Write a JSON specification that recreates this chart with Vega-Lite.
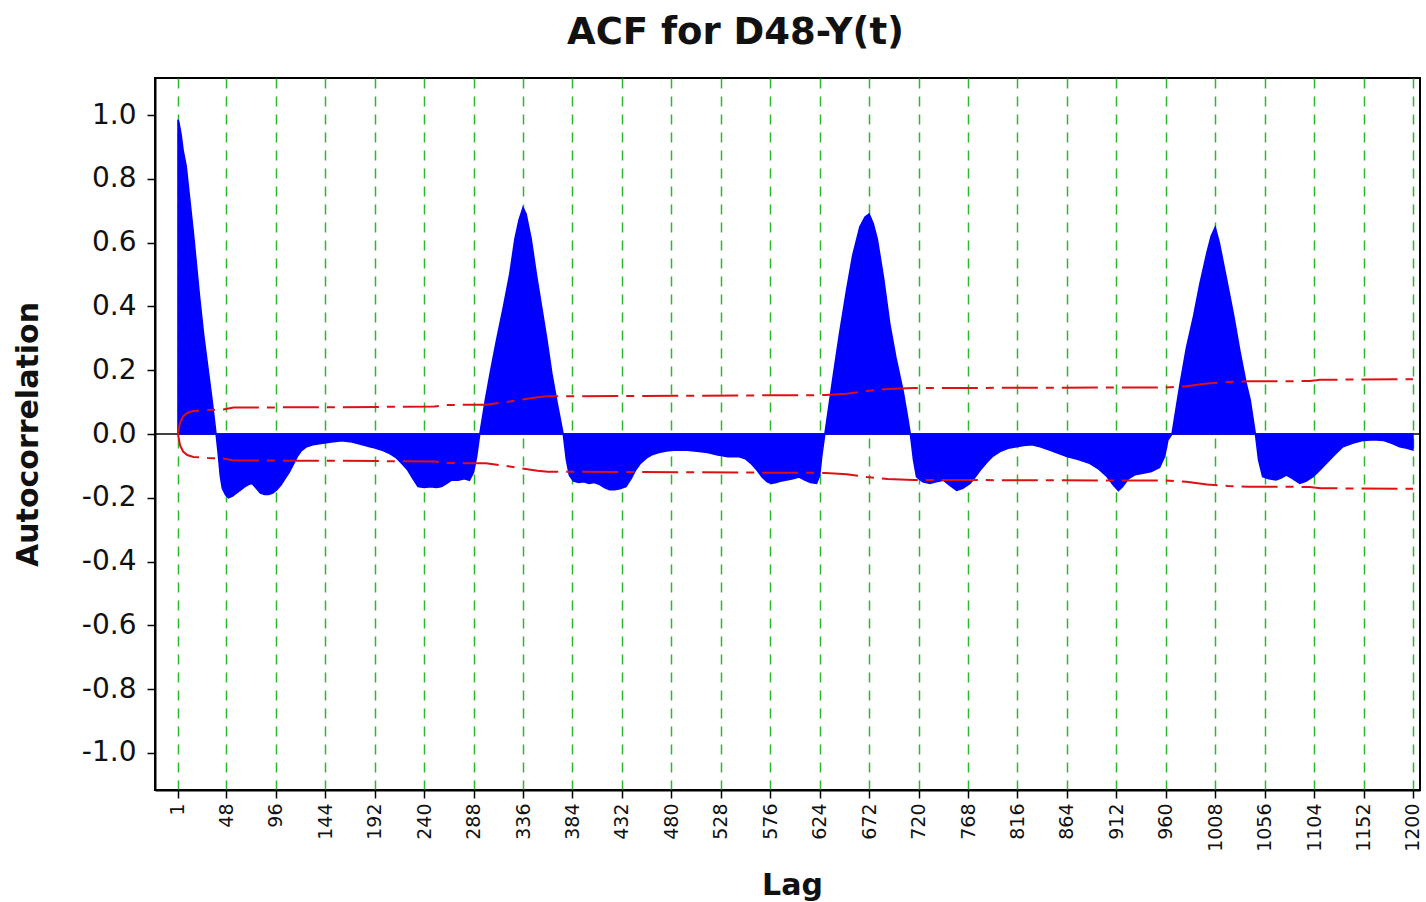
{
  "$schema": "https://vega.github.io/schema/vega-lite/v6.json",
  "autosize": {"type": "none"},
  "width": 1265,
  "height": 712,
  "padding": {"left": 155, "top": 78, "right": 6, "bottom": 112},
  "background": "white",
  "title": {
    "text": "ACF for D48-Y(t)",
    "font": "DejaVu Sans",
    "fontSize": 37,
    "fontWeight": "bold",
    "color": "#111111",
    "anchor": "middle",
    "baseline": "alphabetic",
    "offset": 35,
    "dx": -52,
    "dy": 38
  },
  "config": {
    "view": {"stroke": "black", "strokeWidth": 2},
    "axis": {
      "labelFont": "DejaVu Sans",
      "labelColor": "#111111",
      "titleFont": "DejaVu Sans",
      "titleFontWeight": "bold",
      "titleColor": "#111111",
      "titleFontSize": 30,
      "domainColor": "black",
      "domainWidth": 2,
      "tickColor": "black",
      "tickWidth": 1.5,
      "tickSize": 8
    }
  },
  "datasets": {
    "acf": [
      {"lag": 1, "acf": 0.985}, {"lag": 2, "acf": 0.975}, {"lag": 4, "acf": 0.94}, {"lag": 6, "acf": 0.89}, {"lag": 9, "acf": 0.84},
      {"lag": 13, "acf": 0.72}, {"lag": 16, "acf": 0.63}, {"lag": 19, "acf": 0.53}, {"lag": 22, "acf": 0.43},
      {"lag": 26, "acf": 0.31}, {"lag": 30, "acf": 0.21}, {"lag": 34, "acf": 0.11}, {"lag": 38, "acf": 0.0},
      {"lag": 40, "acf": -0.06}, {"lag": 42, "acf": -0.13}, {"lag": 44, "acf": -0.17}, {"lag": 47, "acf": -0.19},
      {"lag": 50, "acf": -0.2}, {"lag": 54, "acf": -0.195}, {"lag": 58, "acf": -0.185}, {"lag": 62, "acf": -0.175},
      {"lag": 66, "acf": -0.165}, {"lag": 70, "acf": -0.158}, {"lag": 73, "acf": -0.155}, {"lag": 77, "acf": -0.17},
      {"lag": 81, "acf": -0.185}, {"lag": 85, "acf": -0.19}, {"lag": 89, "acf": -0.19}, {"lag": 93, "acf": -0.185},
      {"lag": 97, "acf": -0.175}, {"lag": 101, "acf": -0.16}, {"lag": 105, "acf": -0.14}, {"lag": 109, "acf": -0.12},
      {"lag": 113, "acf": -0.095}, {"lag": 117, "acf": -0.07}, {"lag": 121, "acf": -0.052}, {"lag": 126, "acf": -0.04},
      {"lag": 132, "acf": -0.034}, {"lag": 140, "acf": -0.03}, {"lag": 150, "acf": -0.025}, {"lag": 160, "acf": -0.021},
      {"lag": 170, "acf": -0.025}, {"lag": 180, "acf": -0.034}, {"lag": 190, "acf": -0.042}, {"lag": 200, "acf": -0.052},
      {"lag": 207, "acf": -0.062}, {"lag": 213, "acf": -0.075}, {"lag": 219, "acf": -0.095}, {"lag": 224, "acf": -0.113},
      {"lag": 229, "acf": -0.14}, {"lag": 234, "acf": -0.165}, {"lag": 240, "acf": -0.168}, {"lag": 246, "acf": -0.165},
      {"lag": 252, "acf": -0.168}, {"lag": 257, "acf": -0.165}, {"lag": 262, "acf": -0.155}, {"lag": 267, "acf": -0.144},
      {"lag": 273, "acf": -0.145}, {"lag": 279, "acf": -0.14}, {"lag": 284, "acf": -0.145}, {"lag": 288, "acf": -0.12},
      {"lag": 291, "acf": -0.07}, {"lag": 294, "acf": 0.0}, {"lag": 299, "acf": 0.1}, {"lag": 304, "acf": 0.19},
      {"lag": 310, "acf": 0.29}, {"lag": 317, "acf": 0.4}, {"lag": 323, "acf": 0.5}, {"lag": 328, "acf": 0.61},
      {"lag": 332, "acf": 0.67}, {"lag": 336, "acf": 0.71}, {"lag": 339, "acf": 0.69}, {"lag": 344, "acf": 0.61},
      {"lag": 349, "acf": 0.5}, {"lag": 354, "acf": 0.4}, {"lag": 359, "acf": 0.3}, {"lag": 364, "acf": 0.19},
      {"lag": 369, "acf": 0.1}, {"lag": 375, "acf": 0.0}, {"lag": 378, "acf": -0.08}, {"lag": 381, "acf": -0.13},
      {"lag": 385, "acf": -0.148}, {"lag": 390, "acf": -0.152}, {"lag": 395, "acf": -0.15}, {"lag": 400, "acf": -0.155},
      {"lag": 405, "acf": -0.152}, {"lag": 410, "acf": -0.158}, {"lag": 415, "acf": -0.168}, {"lag": 420, "acf": -0.175},
      {"lag": 425, "acf": -0.175}, {"lag": 430, "acf": -0.172}, {"lag": 436, "acf": -0.165}, {"lag": 441, "acf": -0.14},
      {"lag": 445, "acf": -0.115}, {"lag": 450, "acf": -0.092}, {"lag": 456, "acf": -0.075}, {"lag": 462, "acf": -0.064},
      {"lag": 468, "acf": -0.058}, {"lag": 475, "acf": -0.053}, {"lag": 485, "acf": -0.05}, {"lag": 495, "acf": -0.051},
      {"lag": 505, "acf": -0.054}, {"lag": 515, "acf": -0.058}, {"lag": 525, "acf": -0.066}, {"lag": 535, "acf": -0.071},
      {"lag": 545, "acf": -0.071}, {"lag": 552, "acf": -0.078}, {"lag": 558, "acf": -0.095}, {"lag": 563, "acf": -0.113},
      {"lag": 568, "acf": -0.135}, {"lag": 573, "acf": -0.15}, {"lag": 577, "acf": -0.155}, {"lag": 582, "acf": -0.152},
      {"lag": 587, "acf": -0.147}, {"lag": 592, "acf": -0.144}, {"lag": 598, "acf": -0.14}, {"lag": 604, "acf": -0.135},
      {"lag": 609, "acf": -0.144}, {"lag": 615, "acf": -0.152}, {"lag": 621, "acf": -0.155}, {"lag": 624, "acf": -0.13},
      {"lag": 626, "acf": -0.07}, {"lag": 629, "acf": 0.0}, {"lag": 633, "acf": 0.09}, {"lag": 637, "acf": 0.18},
      {"lag": 643, "acf": 0.31}, {"lag": 650, "acf": 0.45}, {"lag": 656, "acf": 0.56}, {"lag": 663, "acf": 0.65},
      {"lag": 668, "acf": 0.68}, {"lag": 672, "acf": 0.69}, {"lag": 676, "acf": 0.66}, {"lag": 680, "acf": 0.61},
      {"lag": 686, "acf": 0.49}, {"lag": 692, "acf": 0.347}, {"lag": 698, "acf": 0.24}, {"lag": 705, "acf": 0.135},
      {"lag": 709, "acf": 0.06}, {"lag": 712, "acf": 0.0}, {"lag": 715, "acf": -0.08}, {"lag": 718, "acf": -0.134},
      {"lag": 724, "acf": -0.15}, {"lag": 731, "acf": -0.155}, {"lag": 737, "acf": -0.15}, {"lag": 744, "acf": -0.145},
      {"lag": 750, "acf": -0.16}, {"lag": 757, "acf": -0.177}, {"lag": 763, "acf": -0.17}, {"lag": 770, "acf": -0.155},
      {"lag": 775, "acf": -0.135}, {"lag": 780, "acf": -0.113}, {"lag": 786, "acf": -0.09}, {"lag": 792, "acf": -0.07},
      {"lag": 799, "acf": -0.055}, {"lag": 807, "acf": -0.045}, {"lag": 815, "acf": -0.04}, {"lag": 822, "acf": -0.036},
      {"lag": 830, "acf": -0.034}, {"lag": 838, "acf": -0.04}, {"lag": 847, "acf": -0.05}, {"lag": 855, "acf": -0.06},
      {"lag": 864, "acf": -0.071}, {"lag": 875, "acf": -0.08}, {"lag": 886, "acf": -0.092}, {"lag": 895, "acf": -0.11},
      {"lag": 903, "acf": -0.134}, {"lag": 909, "acf": -0.16}, {"lag": 914, "acf": -0.178}, {"lag": 918, "acf": -0.165},
      {"lag": 924, "acf": -0.14}, {"lag": 930, "acf": -0.128}, {"lag": 938, "acf": -0.123}, {"lag": 946, "acf": -0.118},
      {"lag": 954, "acf": -0.105}, {"lag": 959, "acf": -0.07}, {"lag": 962, "acf": -0.02}, {"lag": 966, "acf": 0.0},
      {"lag": 970, "acf": 0.08}, {"lag": 974, "acf": 0.16}, {"lag": 980, "acf": 0.27}, {"lag": 987, "acf": 0.37},
      {"lag": 993, "acf": 0.47}, {"lag": 1000, "acf": 0.57}, {"lag": 1004, "acf": 0.62}, {"lag": 1008, "acf": 0.648},
      {"lag": 1012, "acf": 0.6}, {"lag": 1016, "acf": 0.535}, {"lag": 1020, "acf": 0.47}, {"lag": 1026, "acf": 0.37},
      {"lag": 1032, "acf": 0.26}, {"lag": 1038, "acf": 0.16}, {"lag": 1042, "acf": 0.106}, {"lag": 1047, "acf": 0.0},
      {"lag": 1050, "acf": -0.08}, {"lag": 1054, "acf": -0.134}, {"lag": 1060, "acf": -0.14}, {"lag": 1067, "acf": -0.144},
      {"lag": 1072, "acf": -0.138}, {"lag": 1077, "acf": -0.129}, {"lag": 1083, "acf": -0.14}, {"lag": 1090, "acf": -0.155},
      {"lag": 1096, "acf": -0.148}, {"lag": 1103, "acf": -0.134}, {"lag": 1109, "acf": -0.115}, {"lag": 1116, "acf": -0.092},
      {"lag": 1124, "acf": -0.065}, {"lag": 1132, "acf": -0.04}, {"lag": 1142, "acf": -0.028}, {"lag": 1152, "acf": -0.02},
      {"lag": 1162, "acf": -0.018}, {"lag": 1171, "acf": -0.02}, {"lag": 1180, "acf": -0.03}, {"lag": 1187, "acf": -0.04},
      {"lag": 1194, "acf": -0.045}, {"lag": 1200, "acf": -0.05}
    ],
    "bands": [
      {"lag": 1, "lo": 0.0, "hi": 0.0}, {"lag": 3, "lo": -0.035, "hi": 0.035}, {"lag": 6, "lo": -0.055, "hi": 0.055},
      {"lag": 10, "lo": -0.066, "hi": 0.066}, {"lag": 16, "lo": -0.072, "hi": 0.072}, {"lag": 30, "lo": -0.075, "hi": 0.075},
      {"lag": 45, "lo": -0.077, "hi": 0.077}, {"lag": 55, "lo": -0.083, "hi": 0.083}, {"lag": 150, "lo": -0.084, "hi": 0.084},
      {"lag": 250, "lo": -0.086, "hi": 0.086}, {"lag": 262, "lo": -0.091, "hi": 0.091}, {"lag": 300, "lo": -0.092, "hi": 0.092},
      {"lag": 320, "lo": -0.1, "hi": 0.1}, {"lag": 335, "lo": -0.108, "hi": 0.108}, {"lag": 350, "lo": -0.115, "hi": 0.115},
      {"lag": 360, "lo": -0.118, "hi": 0.118}, {"lag": 630, "lo": -0.122, "hi": 0.122}, {"lag": 650, "lo": -0.126, "hi": 0.126},
      {"lag": 670, "lo": -0.135, "hi": 0.135}, {"lag": 690, "lo": -0.141, "hi": 0.141}, {"lag": 715, "lo": -0.144, "hi": 0.144},
      {"lag": 960, "lo": -0.146, "hi": 0.146}, {"lag": 980, "lo": -0.15, "hi": 0.15}, {"lag": 1000, "lo": -0.158, "hi": 0.158},
      {"lag": 1020, "lo": -0.163, "hi": 0.163}, {"lag": 1040, "lo": -0.165, "hi": 0.165}, {"lag": 1100, "lo": -0.166, "hi": 0.166},
      {"lag": 1110, "lo": -0.17, "hi": 0.17}, {"lag": 1200, "lo": -0.172, "hi": 0.172}
    ]
  },
  "layer": [
    {
      "data": {"values": [{"zero": 0}]},
      "mark": {"type": "rule", "color": "black", "strokeWidth": 1.5},
      "encoding": {
        "y": {"field": "zero", "type": "quantitative", "scale": {"domain": [-1.116, 1.116], "nice": false}}
      }
    },
    {
      "data": {"name": "acf"},
      "mark": {"type": "area", "color": "#0000ff", "interpolate": "linear", "stroke": "#0000ff", "strokeWidth": 1.5},
      "encoding": {
        "x": {
          "field": "lag",
          "type": "quantitative",
          "scale": {"domain": [-21.3, 1206.8], "nice": false, "zero": false},
          "axis": {
            "title": "Lag",
            "titleX": 637,
            "titleY": 95,
            "titleBaseline": "middle",
            "values": [1, 48, 96, 144, 192, 240, 288, 336, 384, 432, 480, 528, 576, 624, 672, 720, 768, 816, 864, 912, 960, 1008, 1056, 1104, 1152, 1200],
            "format": "d",
            "labelAngle": -90,
            "labelFontSize": 19,
            "labelPadding": 5,
            "labelOverlap": false,
            "grid": true,
            "gridColor": "#2db82d",
            "gridWidth": 1.5,
            "gridDash": [10, 8],
            "gridOpacity": 1
          }
        },
        "y": {
          "field": "acf",
          "type": "quantitative",
          "scale": {"domain": [-1.116, 1.116], "nice": false},
          "axis": {
            "title": "Autocorrelation",
            "titleX": -127,
            "titleY": 356,
            "titleBaseline": "middle",
            "titleAngle": -90,
            "values": [-1, -0.8, -0.6, -0.4, -0.2, 0, 0.2, 0.4, 0.6, 0.8, 1],
            "labelExpr": "replace(format(datum.value, '.1f'), '\u2212', '-')",
            "labelFontSize": 28,
            "labelPadding": 11,
            "grid": false
          }
        },
        "y2": {"datum": 0}
      }
    },
    {
      "data": {"name": "bands"},
      "mark": {"type": "line", "color": "#dd1111", "strokeWidth": 2, "strokeDash": [36, 8, 8, 8]},
      "encoding": {
        "x": {"field": "lag", "type": "quantitative"},
        "y": {"field": "hi", "type": "quantitative"}
      }
    },
    {
      "data": {"name": "bands"},
      "mark": {"type": "line", "color": "#dd1111", "strokeWidth": 2, "strokeDash": [36, 8, 8, 8]},
      "encoding": {
        "x": {"field": "lag", "type": "quantitative"},
        "y": {"field": "lo", "type": "quantitative"}
      }
    }
  ]
}
